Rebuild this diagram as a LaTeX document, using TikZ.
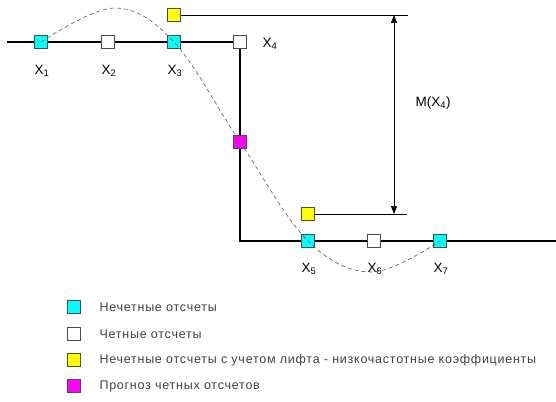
\documentclass[tikz,border=0pt]{standalone}
\usepackage{fontspec}
\setmainfont{Liberation Sans}
\newfontfamily\legfont[LetterSpace=6]{Liberation Sans}
\usetikzlibrary{arrows.meta}

\definecolor{oddc}{RGB}{0,255,255}
\definecolor{predc}{RGB}{255,0,255}
\definecolor{liftc}{RGB}{255,255,0}

\tikzset{
  smp/.style={draw=black!70, line width=0.6pt, minimum size=12.5pt, inner sep=0pt},
  odd/.style={smp, fill=oddc},
  even/.style={smp, fill=white},
  lift/.style={smp, fill=liftc},
  pred/.style={smp, fill=predc},
  lbl/.style={font=\fontsize{13.5}{15}\selectfont},
  leg/.style={font=\legfont\fontsize{12.5}{14}\selectfont, text=black!75, anchor=west}
}

\begin{document}
\begin{tikzpicture}[x=1pt, y=-1pt, >={Triangle[length=8pt,width=6pt]}]
  \useasboundingbox (0,0) rectangle (556,401);

  % Signal
  \coordinate (s0) at (7,42);
  \coordinate (s1) at (240,241);
  \coordinate (s2) at (556,241);
  \draw[line width=2.5pt] (s0) -- (240,42) -- (s1) -- (s2);

  % Samples
  \node[odd]  (x1) at (41,42) {};
  \node[even] (x2) at (108,42) {};
  \node[odd]  (x3) at (174,42) {};
  \node[even] (x4) at (240,42) {};
  \node[pred] (p4) at (240,142) {};
  \node[odd]  (x5) at (308,241) {};
  \node[even] (x6) at (374,241) {};
  \node[odd]  (x7) at (440,241) {};
  \node[lift] (l3) at (174,15) {};
  \node[lift] (l5) at (308,214) {};

  % Labels
  \node[lbl] at (42,71) {X\textsubscript{1}};
  \node[lbl] at (109,71) {X\textsubscript{2}};
  \node[lbl] at (175,71) {X\textsubscript{3}};
  \node[lbl] at (270,44) {X\textsubscript{4}};
  \node[lbl] at (309,269) {X\textsubscript{5}};
  \node[lbl] at (375,269) {X\textsubscript{6}};
  \node[lbl] at (441,269) {X\textsubscript{7}};

  % Lifting step
  \coordinate (t) at (408,15);
  \coordinate (b) at (407,214);
  \draw[line width=0.7pt] (l3.east) -- (t);
  \draw[line width=0.7pt] (l5.east) -- (b);
  \draw[<->, line width=0.7pt] (394,15) -- (394,214);
  \node[lbl] at (433,103) {M(X\textsubscript{4})};

  % Interpolating curve
  \coordinate (top) at (114,8);
  \coordinate (bot) at (372,272);
  \draw[black!65, line width=0.6pt, dash pattern=on 4pt off 3pt]
    plot[smooth, tension=0.6] coordinates {(x1) (top) (x3) (p4) (x5) (bot) (x7)};

  % Legend
  \node[odd]  (k1) at (74,307) {};
  \node[even] (k2) at (74,334) {};
  \node[lift] (k3) at (74,360) {};
  \node[pred] (k4) at (74,386) {};
  \node[leg] at (96,307) {Нечетные отсчеты};
  \node[leg] at (96,334) {Четные отсчеты};
  \node[leg] at (96,360) {Нечетные отсчеты с учетом лифта - низкочастотные коэффициенты};
  \node[leg] at (96,386) {Прогноз четных отсчетов};
\end{tikzpicture}
\end{document}
